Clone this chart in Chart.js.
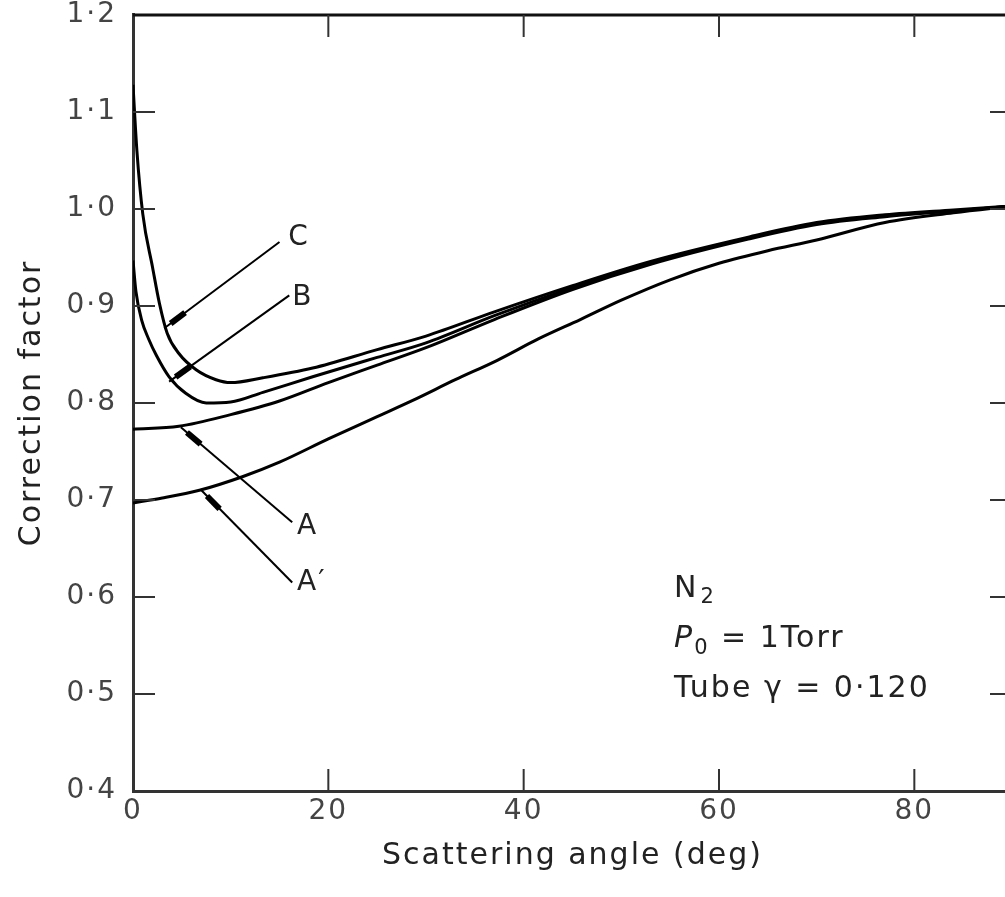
<!DOCTYPE html>
<html>
<head>
<meta charset="utf-8">
<script src="https://cdn.jsdelivr.net/npm/chart.js@4.4.1/dist/chart.umd.min.js"></script>
<style>
  html, body { margin: 0; padding: 0; background: #fff; overflow: hidden; }
  #wrap { position: relative; width: 1030px; height: 897px; }
</style>
</head>
<body>
<div id="wrap"><canvas id="chart"></canvas></div>
<script>
// curve C
var angle_c = [0, 0.4, 1, 2, 2.7, 3.5, 4.7, 6.5, 8.5, 10, 13.3, 18.4, 25, 30, 37, 45, 53, 63, 70, 77, 84, 90];
var factor_c = [1.128, 1.06, 0.995, 0.94, 0.903, 0.872, 0.851, 0.834, 0.824, 0.821, 0.826, 0.836, 0.855, 0.869, 0.894, 0.921, 0.946, 0.971, 0.986, 0.994, 0.999, 1.003];
// curve B
var angle_b = [0, 0.3, 0.9, 1.6, 2.4, 3.7, 5.4, 7.5, 10, 13.3, 18.4, 25, 30, 37, 45, 53, 63, 70, 77, 84, 90];
var factor_b = [0.947, 0.915, 0.885, 0.866, 0.849, 0.827, 0.81, 0.8, 0.801, 0.811, 0.827, 0.847, 0.862, 0.89, 0.919, 0.945, 0.97, 0.985, 0.993, 0.998, 1.003];
// curve A
var angle_a = [0, 4.7, 10, 15, 20, 25, 30, 37, 45, 53, 63, 70, 77, 84, 90];
var factor_a = [0.773, 0.776, 0.788, 0.802, 0.821, 0.839, 0.857, 0.886, 0.917, 0.943, 0.969, 0.984, 0.992, 0.998, 1.003];
// curve A'
var angle_a2 = [0, 3, 6.8, 11.2, 15, 20, 25, 28.7, 33, 37.3, 41.5, 45.8, 50, 55, 60, 65, 70, 77, 84, 90];
var factor_a2 = [0.697, 0.702, 0.71, 0.724, 0.739, 0.763, 0.786, 0.803, 0.824, 0.844, 0.866, 0.886, 0.906, 0.927, 0.944, 0.957, 0.968, 0.986, 0.996, 1.003];

var x_tick_marks = [20, 40, 60, 80];
var y_tick_marks = [0.5, 0.6, 0.7, 0.8, 0.9, 1.0, 1.1];

// curve labels with leader lines (data units)
var leader_names = ["C", "B", "A", "A\u2032"];
var leader_from = [[3.2, 0.877], [3.7, 0.822], [4.9, 0.775], [7.0, 0.710]];
var leader_to = [[15.0, 0.966], [16.0, 0.911], [16.3, 0.677], [16.3, 0.615]];
var leader_text = [[15.9, 0.970], [16.3, 0.909], [16.8, 0.672], [16.8, 0.615]];

var font_family = "'DejaVu Sans', sans-serif";

function toPoints(xs, ys) {
  return xs.map(function (x, i) { return { x: x, y: ys[i] }; });
}

function curve(label, xs, ys) {
  return {
    label: label,
    data: toPoints(xs, ys),
    borderColor: "#000",
    borderWidth: 3,
    pointRadius: 0,
    fill: false,
    cubicInterpolationMode: "monotone",
  };
}

const decorations = {
  id: "decorations",
  beforeDraw(chart) {
    chart.ctx.letterSpacing = "2px";
  },
  afterDraw(chart) {
    const ctx = chart.ctx;
    const xs = chart.scales.x;
    const ys = chart.scales.y;
    const area = chart.chartArea;
    ctx.save();
    ctx.letterSpacing = "2px";

    // top and right frame
    ctx.strokeStyle = "#111";
    ctx.lineWidth = 3;
    ctx.beginPath();
    ctx.moveTo(area.left, area.top);
    ctx.lineTo(area.right, area.top);
    ctx.lineTo(area.right, area.bottom);
    ctx.stroke();

    // inward tick marks
    ctx.strokeStyle = "#333";
    ctx.lineWidth = 2;
    const len = 22;
    ctx.beginPath();
    y_tick_marks.forEach(function (v) {
      const py = ys.getPixelForValue(v);
      ctx.moveTo(area.left, py); ctx.lineTo(area.left + len, py);
      ctx.moveTo(area.right, py); ctx.lineTo(area.right - len, py);
    });
    x_tick_marks.forEach(function (v) {
      const px = xs.getPixelForValue(v);
      ctx.moveTo(px, area.bottom); ctx.lineTo(px, area.bottom - len);
      ctx.moveTo(px, area.top); ctx.lineTo(px, area.top + len);
    });
    ctx.stroke();

    // leader lines with labels
    ctx.strokeStyle = "#000";
    ctx.fillStyle = "#222";
    ctx.font = "28px " + font_family;
    ctx.textAlign = "left";
    ctx.textBaseline = "middle";
    leader_names.forEach(function (name, i) {
      const x0 = xs.getPixelForValue(leader_from[i][0]);
      const y0 = ys.getPixelForValue(leader_from[i][1]);
      const x1 = xs.getPixelForValue(leader_to[i][0]);
      const y1 = ys.getPixelForValue(leader_to[i][1]);
      const d = Math.hypot(x1 - x0, y1 - y0);
      const ux = (x1 - x0) / d, uy = (y1 - y0) / d;
      ctx.lineWidth = 2;
      ctx.beginPath();
      ctx.moveTo(x0, y0); ctx.lineTo(x1, y1);
      ctx.stroke();
      ctx.lineWidth = 6;
      ctx.beginPath();
      ctx.moveTo(x0 + ux * 8, y0 + uy * 8);
      ctx.lineTo(x0 + ux * 26, y0 + uy * 26);
      ctx.stroke();
      ctx.fillText(name, xs.getPixelForValue(leader_text[i][0]), ys.getPixelForValue(leader_text[i][1]));
    });

    // conditions text
    const tx = xs.getPixelForValue(55.4);
    ctx.textBaseline = "alphabetic";
    ctx.font = "30px " + font_family;
    let py = ys.getPixelForValue(0.600);
    ctx.fillText("N", tx, py);
    let w = ctx.measureText("N").width;
    ctx.font = "21px " + font_family;
    ctx.fillText("2", tx + w + 2, py + 6);

    py = ys.getPixelForValue(0.548);
    ctx.font = "italic 30px " + font_family;
    ctx.fillText("P", tx, py);
    w = ctx.measureText("P").width;
    ctx.font = "21px " + font_family;
    ctx.fillText("0", tx + w, py + 7);
    const w2 = ctx.measureText("0").width;
    ctx.font = "30px " + font_family;
    ctx.fillText(" = 1Torr", tx + w + w2, py);

    py = ys.getPixelForValue(0.497);
    ctx.fillText("Tube \u03b3 = 0\u00b7120", tx, py);

    ctx.restore();
  },
};

const ctx = document.getElementById("chart").getContext("2d");

const config = {
  type: "line",
  data: {
    datasets: [
      curve("C", angle_c, factor_c),
      curve("B", angle_b, factor_b),
      curve("A", angle_a, factor_a),
      curve("A\u2032", angle_a2, factor_a2),
    ],
  },
  options: {
    responsive: true,
    maintainAspectRatio: false,
    animation: false,
    layout: { padding: { top: 0, right: 18, left: 0, bottom: 0 } },
    plugins: {
      legend: { display: false },
      tooltip: { enabled: false },
    },
    scales: {
      x: {
        type: "linear",
        min: 0,
        max: 90,
        ticks: {
          stepSize: 20,
          color: "#444",
          padding: 4,
          maxRotation: 0,
          font: { family: font_family, size: 28 },
          callback: function (value) { return value > 85 ? "" : value; },
        },
        grid: { display: false, drawTicks: false },
        border: { display: true, color: "#333", width: 3 },
        title: {
          display: true,
          text: "Scattering angle (deg)",
          color: "#222",
          font: { family: font_family, size: 30 },
          padding: { top: 0, bottom: 23 },
        },
        afterFit: function (scale) { scale.height = 106; },
      },
      y: {
        type: "linear",
        min: 0.4,
        max: 1.2,
        ticks: {
          stepSize: 0.1,
          color: "#444",
          padding: 0,
          font: { family: font_family, size: 28, lineHeight: 1.07 },
          callback: function (value) { return value.toFixed(1).replace(".", "\u00b7"); },
        },
        grid: { display: false, drawTicks: true, tickLength: 16 },
        border: { display: true, color: "#333", width: 3 },
        title: {
          display: true,
          text: "Correction factor",
          color: "#222",
          font: { family: font_family, size: 30 },
          padding: { top: 14, bottom: 0 },
        },
        afterFit: function (scale) { scale.width = 133; },
      },
    },
  },
  plugins: [decorations],
};

var chart = new Chart(ctx, config);
</script>
</body>
</html>
